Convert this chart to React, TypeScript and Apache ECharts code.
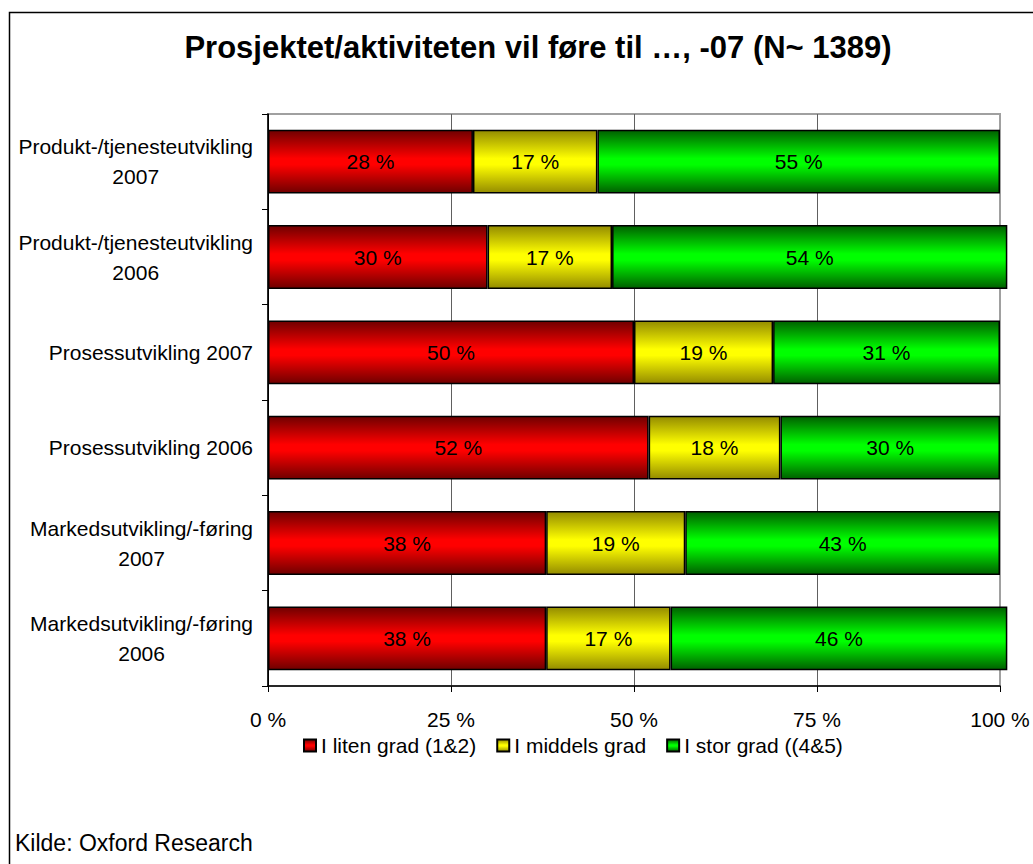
import React, { useEffect, useRef } from 'react';
import * as echarts from 'echarts';

const categories = [
  'Produkt-/tjenesteutvikling\n2007',
  'Produkt-/tjenesteutvikling\n2006',
  'Prosessutvikling 2007',
  'Prosessutvikling 2006',
  'Markedsutvikling/-føring\n2007',
  'Markedsutvikling/-føring\n2006',
];
const seriesNames = ['I liten grad (1&2)', 'I middels grad', 'I stor grad ((4&5)'];
const litenGrad = [28, 30, 50, 52, 38, 38];
const middelsGrad = [17, 17, 19, 18, 19, 17];
const storGrad = [55, 54, 31, 30, 43, 46];
const titleText = 'Prosjektet/aktiviteten vil føre til …, -07 (N~ 1389)';
const sourceText = 'Kilde: Oxford Research';

const FONT = '"Liberation Sans", Arial, sans-serif';

function grad(dark: string, bright: string) {
  return new echarts.graphic.LinearGradient(0, 0, 0, 1, [
    { offset: 0, color: dark },
    { offset: 0.45, color: bright },
    { offset: 0.55, color: bright },
    { offset: 1, color: dark },
  ]);
}

export default function App() {
  const ref = useRef<HTMLDivElement>(null);
  useEffect(() => {
    if (!ref.current) return;
    const chart = echarts.init(ref.current, undefined, { renderer: 'svg' });
    const fills = [grad('#700000', '#ff0000'), grad('#948c00', '#ffff00'), grad('#006000', '#00ff00')];
    const datasets = [litenGrad, middelsGrad, storGrad];
    chart.setOption({
      animation: false,
      backgroundColor: '#ffffff',
      textStyle: { fontFamily: FONT },
      graphic: [
        {
          type: 'rect',
          shape: { x: 9.5, y: 12.5, width: 1100, height: 900 },
          style: { fill: 'none', stroke: '#000', lineWidth: 1.5 },
          silent: true,
        },
        {
          type: 'text',
          x: 538,
          y: 47,
          style: {
            text: titleText,
            font: `bold 31px ${FONT}`,
            fill: '#000',
            align: 'center',
            verticalAlign: 'middle',
            textAlign: 'center',
            textVerticalAlign: 'middle',
          },
        },
        {
          type: 'text',
          x: 15,
          y: 843,
          style: {
            text: sourceText,
            font: `23px ${FONT}`,
            fill: '#000',
            align: 'left',
            verticalAlign: 'middle',
            textAlign: 'left',
            textVerticalAlign: 'middle',
          },
        },
      ],
      legend: {
        data: seriesNames,
        left: 298,
        top: 730,
        icon: 'rect',
        itemWidth: 12,
        itemHeight: 12,
        itemGap: 20,
        textStyle: { fontSize: 21, color: '#000', fontFamily: FONT },
      },
      grid: {
        left: 268,
        top: 114,
        width: 732,
        height: 572,
        show: true,
        borderColor: '#a0a0a0',
        borderWidth: 2,
        containLabel: false,
      },
      xAxis: {
        type: 'value',
        min: 0,
        max: 100,
        interval: 25,
        axisLine: { show: true, lineStyle: { color: '#000', width: 1.5 } },
        axisTick: { show: true, length: 6, lineStyle: { color: '#000' } },
        axisLabel: {
          formatter: '{value} %',
          fontSize: 21,
          color: '#000',
          margin: 23,
          fontFamily: FONT,
        },
        splitLine: {
          show: true,
          lineStyle: { color: ['#000', '#606060', '#606060', '#606060', '#a0a0a0'], width: 1 },
        },
      },
      yAxis: {
        type: 'category',
        data: categories,
        inverse: true,
        axisLine: { show: true, lineStyle: { color: '#000', width: 1.5 } },
        axisTick: { show: true, length: 6, lineStyle: { color: '#000' } },
        axisLabel: {
          fontSize: 21,
          color: '#000',
          margin: 15,
          lineHeight: 30,
          fontFamily: FONT,
          formatter: (v: string) =>
            v.indexOf('\n') >= 0
              ? v
                  .split('\n')
                  .map((l) => `{c|${l}}`)
                  .join('\n')
              : v,
          rich: {
            c: { align: 'center', fontSize: 21, lineHeight: 30, color: '#000', fontFamily: FONT },
          },
        },
      },
      series: seriesNames.map((name, i) => ({
        name,
        type: 'bar',
        stack: 'total',
        barWidth: '67%',
        clip: false,
        data: datasets[i],
        itemStyle: { color: fills[i], borderColor: '#000', borderWidth: 1.5 },
        label: {
          show: true,
          position: 'inside',
          formatter: '{c} %',
          fontSize: 21,
          color: '#000',
          fontFamily: FONT,
        },
        emphasis: { disabled: true },
      })),
    });
    return () => chart.dispose();
  }, []);
  return (
    <div
      ref={ref}
      style={{ position: 'absolute', left: 0, top: 0, width: 1033, height: 864 }}
    />
  );
}
